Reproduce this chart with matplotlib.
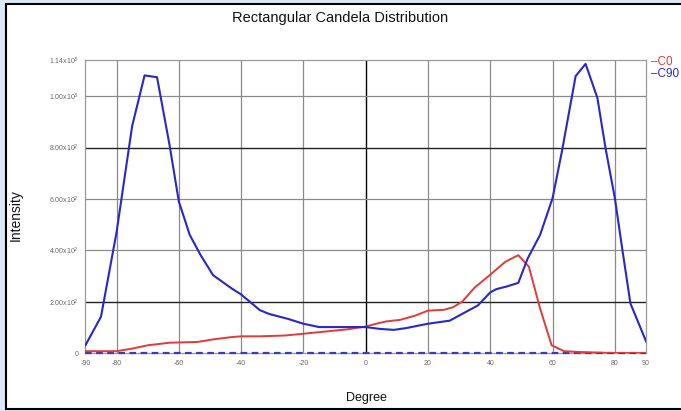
import matplotlib
matplotlib.use("Agg")
import matplotlib.pyplot as plt
from matplotlib.patches import Rectangle

plt.rcParams['font.family'] = ['Liberation Sans', 'DejaVu Sans']

# C90 plane (blue), degrees and candela values
c90_deg = [-90, -85, -80, -75, -71, -67, -63, -60, -56.5, -53, -49, -43, -40,
           -34, -31, -25, -20, -15, -10, -5, 0, 4.5, 9, 13, 20, 27, 32, 36,
           40, 42, 45, 49, 52, 56, 60, 63, 67.4, 70.6, 74.4, 77, 80, 82.5, 85, 90]
c90_val = [30, 141, 470, 883, 1081, 1074, 811, 590, 460, 381, 303, 251, 228,
           167, 152, 133, 114, 101, 101, 101, 101, 94, 90, 97, 114, 126, 159, 185,
           236, 249, 258, 273, 368, 460, 603, 785, 1078, 1126, 993, 798, 603, 395, 193, 46]

# C0 plane (red)
c0_deg = [-90, -80, -75, -70, -63, -54, -49, -43, -40, -34, -26, -20, -12.6, -6,
          0, 3.4, 6.6, 11, 16, 20, 25, 28, 31, 35, 40, 44.8, 49, 52.4, 56, 59.7,
          63.7, 68.5, 79, 90]
c0_val = [7, 7, 17, 30, 40, 43, 53, 62, 65, 65, 68, 75, 84, 92,
          103, 114, 123, 129, 146, 165, 168, 178, 200, 255, 305, 355, 381, 336, 173, 30,
          7, 4, 0, 0]

# flat dashed series along zero
zero_deg = [-90, 90]
zero_val = [0, 0]

x_ticks = [-90, -80, -60, -40, -20, 0, 20, 40, 60, 80, 90]
y_ticks = [0, 200, 400, 600, 800, 1000, 1140]
y_labels = ['0', r'2.00x10$^2$', r'4.00x10$^2$', r'6.00x10$^2$', r'8.00x10$^2$',
            r'1.00x10$^3$', r'1.14x10$^3$']

fig = plt.figure(figsize=(6.81, 4.11), dpi=100)
fig.patch.set_facecolor('#dbe9f6')
fig.patches.append(Rectangle((6 / 681, 2 / 411), 1.0, 1 - 6 / 411,
                             transform=fig.transFigure, facecolor='white',
                             edgecolor='black', linewidth=1.5, zorder=-1))

ax = fig.add_axes([85.4 / 681, 1 - 353 / 411, (646 - 85.4) / 681, (353 - 60) / 411])
ax.set_facecolor('white')

# grid
for gx in [-80, -60, -40, -20, 20, 40, 60, 80]:
    ax.axvline(gx, color='#8a8a8a', linewidth=0.9, zorder=1)
ax.axvline(0, color='black', linewidth=1.0, zorder=1)
for gy in [400, 600, 1000]:
    ax.axhline(gy, color='#8a8a8a', linewidth=0.9, zorder=1)
for gy in [200, 800]:
    ax.axhline(gy, color='#222222', linewidth=1.0, zorder=1)

ax.plot(zero_deg, zero_val, color='#3a3ac0', linewidth=1.6, linestyle=(0, (3, 2)),
        zorder=3, clip_on=False)
ax.plot(c0_deg, c0_val, color='#e03a3a', linewidth=1.4, zorder=4)
ax.plot(c90_deg, c90_val, color='#2828c8', linewidth=1.5, zorder=5)

ax.set_xlim(-90, 90)
ax.set_ylim(0, 1141)
ax.set_xticks(x_ticks)
ax.set_xticklabels([str(t) for t in x_ticks])
ax.set_yticks(y_ticks)
ax.set_yticklabels(y_labels)
ax.tick_params(length=0, labelsize=5, labelcolor='#666666', pad=5)
for s in ax.spines.values():
    s.set_color('#9a9a9a')
    s.set_linewidth(0.9)

fig.text(0.5, 1 - 18 / 411, 'Rectangular Candela Distribution', ha='center', va='center',
         fontsize=10.5, color='#111111')
fig.text(16 / 681, 1 - 215 / 411, 'Intensity', rotation=90, ha='center', va='center',
         fontsize=10, color='#111111')
fig.text(366 / 681, 1 - 398 / 411, 'Degree', ha='center', va='center',
         fontsize=9, color='#111111')

# legend drawn as text to the right of the plot
fig.text(651 / 681, 1 - 62 / 411, '\u2013C0', color='#e03a3a', fontsize=8.5,
         ha='left', va='center')
fig.text(651 / 681, 1 - 74 / 411, '\u2013C90', color='#2828c8', fontsize=8.5,
         ha='left', va='center')

fig.savefig('out.png', dpi=100, facecolor=fig.get_facecolor())
